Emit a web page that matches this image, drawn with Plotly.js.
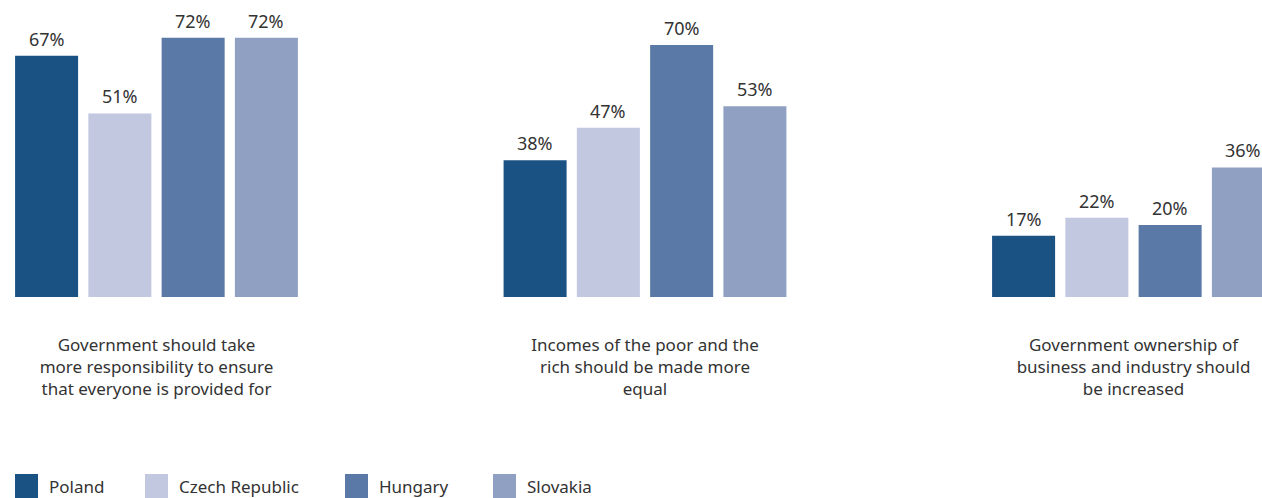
<!DOCTYPE html>
<html>
<head>
<meta charset="utf-8">
<script src="https://cdn.plot.ly/plotly-3.0.1.min.js"></script>
<style>html,body{margin:0;padding:0;background:#fff;}#chart{width:1262px;height:498px;}</style>
</head>
<body>
<div id="chart"></div>
<script>
const categories = [
  "Government should take<br>more responsibility to ensure<br>that everyone is provided for",
  "Incomes of the poor and the<br>rich should be made more<br>equal",
  "Government ownership of<br>business and industry should<br>be increased"
];
const seriesNames = ["Poland", "Czech Republic", "Hungary", "Slovakia"];
const poland = [67, 38, 17];
const czech = [51, 47, 22];
const hungary = [72, 70, 20];
const slovakia = [72, 53, 36];
const seriesValues = [poland, czech, hungary, slovakia];
const colors = ["#1B5284", "#C3C8E1", "#5A79A6", "#8FA0C2"];

const W = 1262, H = 498, T = 20, B = 201;
const plotH = H - T - B;
const xs = categories.map((c, i) => i);
const bargap = 0.4, bargroupgap = 0.14;
const slot = (1 - bargap) / seriesNames.length;
const FONT = 'Noto Sans, sans-serif';
const TXT = '#333333';

const traces = seriesNames.map((name, j) => ({
  type: 'bar', name: name, x: xs, y: seriesValues[j],
  marker: {color: colors[j], line: {width: 0}},
  showlegend: false, hoverinfo: 'none'
}));

const annotations = [];
seriesValues.forEach((vals, j) => {
  vals.forEach((v, i) => {
    annotations.push({
      xref: 'x', yref: 'y', x: i + (j - (seriesNames.length - 1) / 2) * slot, y: v,
      text: v + '%', showarrow: false, yanchor: 'bottom', xanchor: 'center', yshift: 3,
      font: {family: FONT, size: 18, color: TXT}
    });
  });
});

// legend (built from series names/colors)
const legX = [15, 145, 345, 493];
const shapes = [];
const toPy = (py) => (H - B - py) / plotH;
seriesNames.forEach((name, j) => {
  shapes.push({type: 'rect', xref: 'paper', yref: 'paper',
    x0: legX[j] / W, x1: (legX[j] + 23) / W, y0: toPy(498), y1: toPy(474),
    fillcolor: colors[j], line: {width: 0}});
  annotations.push({xref: 'paper', yref: 'paper', x: (legX[j] + 32) / W, y: toPy(486),
    text: name, showarrow: false, xanchor: 'left', yanchor: 'middle',
    font: {family: FONT, size: 17, color: TXT}});
});

const pxPerUnit = 488.5;
const layout = {
  width: W, height: H,
  margin: {l: 0, r: 0, t: T, b: B},
  paper_bgcolor: '#ffffff', plot_bgcolor: '#ffffff',
  barmode: 'group', bargap: bargap, bargroupgap: bargroupgap,
  showlegend: false,
  xaxis: {
    type: 'linear', range: [-156.5 / pxPerUnit, (W - 156.5) / pxPerUnit],
    tickvals: xs, ticktext: categories, showgrid: false, zeroline: false,
    showline: false, ticks: '', ticklabelstandoff: 36,
    tickfont: {family: FONT, size: 17, color: TXT}
  },
  yaxis: {range: [0, plotH / 3.6], visible: false, showgrid: false, zeroline: false},
  annotations: annotations, shapes: shapes
};
Plotly.newPlot('chart', traces, layout, {staticPlot: true, displayModeBar: false});
</script>
</body>
</html>
